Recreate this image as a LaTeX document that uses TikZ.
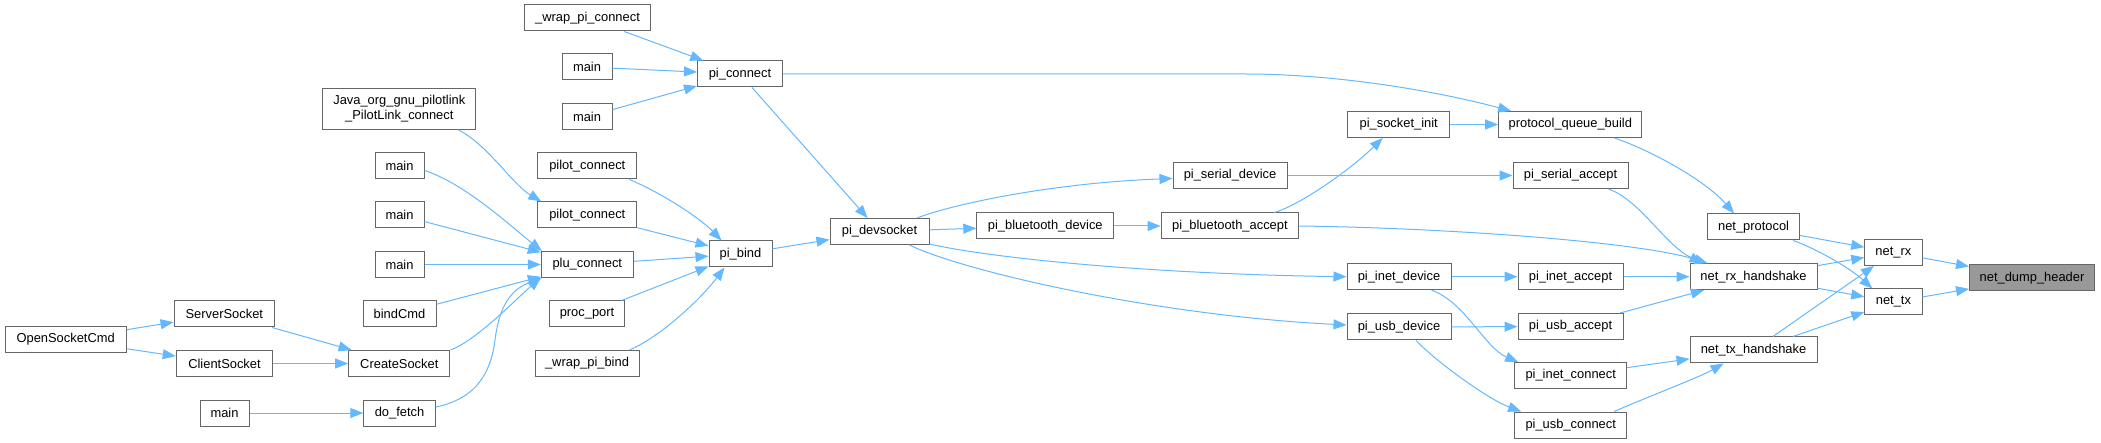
\documentclass[tikz,border=0pt]{standalone}
\usepackage{fontspec}
\setmainfont{Liberation Sans}
\usetikzlibrary{arrows.meta}
\definecolor{edgeblue}{HTML}{63B8FF}
\definecolor{bordergray}{HTML}{666666}
\definecolor{dumpfill}{HTML}{999999}
\begin{document}
\begin{tikzpicture}[x=1pt,y=-1pt,
  nb/.style={draw=bordergray, fill=white, line width=1pt, inner sep=0pt,
    minimum height=26pt, font=\fontsize{12.9}{15}\selectfont, text=black},
  arr/.style={draw=edgeblue, line width=1pt, -{Triangle[length=13pt,width=10pt]}}]
\useasboundingbox (0,0) rectangle (2101,443);
% nodes
\node[nb, minimum width=126] (wrapconn) at (587.5,18) {\_wrap\_pi\_connect};
\node[nb, minimum width=50] (mainA) at (587,67) {main};
\node[nb, minimum width=50] (mainB) at (587,116.7) {main};
\node[nb, minimum width=153, minimum height=41, align=center] (java) at (399.3,108.8) {Java\_org\_gnu\_pilotlink\\\_PilotLink\_connect};
\node[nb, minimum width=49] (mainC) at (399.5,166) {main};
\node[nb, minimum width=99] (pilotA) at (587.3,166) {pilot\_connect};
\node[nb, minimum width=49] (mainD) at (399.5,215) {main};
\node[nb, minimum width=99] (pilotB) at (587.3,215) {pilot\_connect};
\node[nb, minimum width=49] (mainE) at (399.5,264.5) {main};
\node[nb, minimum width=92] (plu) at (587.3,264.5) {plu\_connect};
\node[nb, minimum width=73] (bindcmd) at (399.5,314) {bindCmd};
\node[nb, minimum width=75] (procport) at (587,314) {proc\_port};
\node[nb, minimum width=100.5] (server) at (224.3,314) {ServerSocket};
\node[nb, minimum width=121] (opensock) at (65.7,339.5) {OpenSocketCmd};
\node[nb, minimum width=96.5] (client) at (224.5,363.5) {ClientSocket};
\node[nb, minimum width=101.3] (create) at (399.3,363.5) {CreateSocket};
\node[nb, minimum width=104] (wrapbind) at (587,363.5) {\_wrap\_pi\_bind};
\node[nb, minimum width=49] (mainF) at (224.5,413) {main};
\node[nb, minimum width=71.5] (dofetch) at (399.5,413) {do\_fetch};
\node[nb, minimum width=85] (piconnect) at (740,74) {pi\_connect};
\node[nb, minimum width=63] (pibind) at (740.5,254) {pi\_bind};
\node[nb, minimum width=99] (devsocket) at (879.5,231.5) {pi\_devsocket};
\node[nb, minimum width=114] (serialdev) at (1230,175.5) {pi\_serial\_device};
\node[nb, minimum width=137] (btdev) at (1045.3,226) {pi\_bluetooth\_device};
\node[nb, minimum width=137.7] (btacc) at (1229.9,226) {pi\_bluetooth\_accept};
\node[nb, minimum width=101.5] (sockinit) at (1398.7,124.5) {pi\_socket\_init};
\node[nb, minimum width=104] (inetdev) at (1399,276.7) {pi\_inet\_device};
\node[nb, minimum width=104] (usbdev) at (1399,327) {pi\_usb\_device};
\node[nb, minimum width=143.3] (pqb) at (1570.3,124.5) {protocol\_queue\_build};
\node[nb, minimum width=115] (serialacc) at (1570.5,175.5) {pi\_serial\_accept};
\node[nb, minimum width=92] (netproto) at (1753.6,227) {net\_protocol};
\node[nb, minimum width=105] (inetacc) at (1570.5,276.7) {pi\_inet\_accept};
\node[nb, minimum width=127] (rxhs) at (1753.5,276.7) {net\_rx\_handshake};
\node[nb, minimum width=57.3] (netrx) at (1893.4,252.5) {net\_rx};
\node[nb, minimum width=57.3] (nettx) at (1893.4,302) {net\_tx};
\node[nb, minimum width=125, fill=dumpfill] (dump) at (2032,278) {net\_dump\_header};
\node[nb, minimum width=105] (usbacc) at (1570.5,326.5) {pi\_usb\_accept};
\node[nb, minimum width=127] (txhs) at (1753.5,350) {net\_tx\_handshake};
\node[nb, minimum width=112] (inetconn) at (1570.7,375.5) {pi\_inet\_connect};
\node[nb, minimum width=112] (usbconn) at (1570.7,425) {pi\_usb\_connect};
% straight edges
\draw[arr] (wrapconn) -- (piconnect);
\draw[arr] (mainA) -- (piconnect);
\draw[arr] (mainB) -- (piconnect);
\draw[arr] (piconnect) -- (devsocket);
\draw[arr] (mainD) -- (plu);
\draw[arr] (mainE) -- (plu);
\draw[arr] (bindcmd) -- (plu);
\draw[arr] (pilotB) -- (pibind);
\draw[arr] (plu) -- (pibind);
\draw[arr] (procport) -- (pibind);
\draw[arr] (opensock) -- (server);
\draw[arr] (opensock) -- (client);
\draw[arr] (server) -- (create);
\draw[arr] (client) -- (create);
\draw[arr] (mainF) -- (dofetch);
\draw[arr] (pibind) -- (devsocket);
\draw[arr] (devsocket) -- (btdev);
\draw[arr] (btdev) -- (btacc);
\draw[arr] (serialdev) -- (serialacc);
\draw[arr] (sockinit) -- (pqb);
\draw[arr] (inetdev) -- (inetacc);
\draw[arr] (usbdev) -- (usbacc);
\draw[arr] (inetacc) -- (rxhs);
\draw[arr] (usbacc) -- (rxhs);
\draw[arr] (inetconn) -- (txhs);
\draw[arr] (netproto) -- (netrx);
\draw[arr] (rxhs) -- (netrx);
\draw[arr] (rxhs) -- (nettx);
\draw[arr] (txhs) -- (netrx);
\draw[arr] (txhs) -- (nettx);
\draw[arr] (netrx) -- (dump);
\draw[arr] (nettx) -- (dump);
% curved edges
\draw[arr] ([xshift=-18pt]java.south east) .. controls (488,145) and (512,184) .. ([xshift=4pt]pilotB.north west);
\draw[arr] ([yshift=-4.5pt]mainC.east) .. controls (464,183) and (512,227) .. ([xshift=1pt]plu.north west);
\draw[arr] (create.north east) .. controls (476,341) and (517,298) .. (plu.south west);
\draw[arr] ([yshift=6pt]dofetch.east) .. controls (470,400) and (490,380) .. (495,340) .. controls (500,300) and (515,288) .. ([xshift=1pt]plu.south west);
\draw[arr] ([xshift=-8pt]pilotA.south east) .. controls (660,192) and (700,218) .. ([xshift=13pt]pibind.north west);
\draw[arr] ([xshift=-10pt]wrapbind.north east) .. controls (660,337) and (700,300) .. ([xshift=-16pt]pibind.south);
\draw[arr] (piconnect.east) -- (1245,74) .. controls (1340,74) and (1440,92) .. ([xshift=13pt]pqb.north west);
\draw[arr] ([xshift=-12.5pt]devsocket.north east) .. controls (950,205) and (1050,183) .. ([yshift=-3pt]serialdev.west);
\draw[arr] ([yshift=1pt]devsocket.south east) .. controls (990,258) and (1150,274) .. (inetdev.west);
\draw[arr] ([xshift=-20pt]devsocket.south east) .. controls (960,270) and (1150,315) .. ([yshift=2pt]usbdev.west);
\draw[arr] ([xshift=-25pt]btacc.north east) .. controls (1300,205) and (1350,170) .. ([xshift=-16pt]sockinit.south);
\draw[arr] (btacc.east) .. controls (1450,228) and (1640,242) .. ([xshift=18pt]rxhs.north west);
\draw[arr] ([xshift=-20pt]serialacc.south east) .. controls (1640,200) and (1665,245) .. ([xshift=13pt]rxhs.north west);
\draw[arr] ([xshift=-28pt]pqb.south east) .. controls (1650,150) and (1705,180) .. ([xshift=27pt]netproto.north west);
\draw[arr] ([xshift=-20pt]inetdev.south east) .. controls (1465,302) and (1485,348) .. ([xshift=4pt]inetconn.north west);
\draw[arr] ([xshift=17pt]usbdev.south) .. controls (1440,365) and (1490,400) .. ([xshift=7pt]usbconn.north west);
\draw[arr] ([xshift=-13pt]usbconn.north east) .. controls (1640,400) and (1700,377) .. ([xshift=34pt]txhs.south west);
\draw[arr] ([xshift=-7pt]netproto.south east) .. controls (1815,248) and (1850,268) .. ([xshift=8pt]nettx.north west);
\end{tikzpicture}
\end{document}
